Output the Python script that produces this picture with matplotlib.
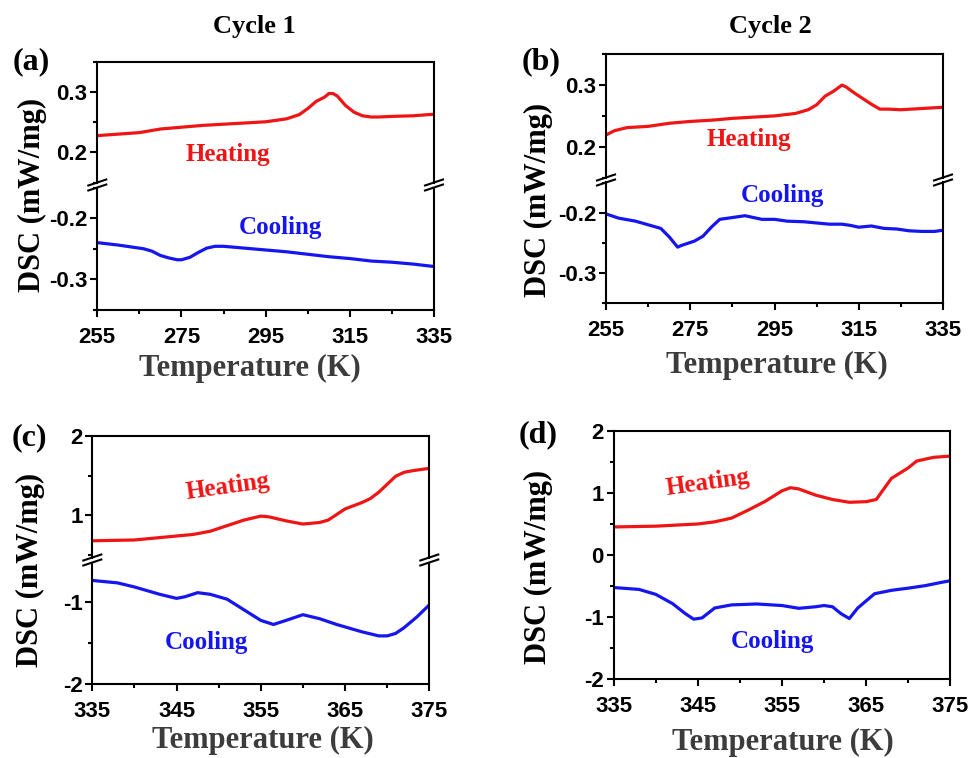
import matplotlib
matplotlib.use("Agg")
import matplotlib.pyplot as plt
from matplotlib.lines import Line2D
from matplotlib.ticker import MultipleLocator, FixedLocator, FormatStrFormatter

plt.rcParams['axes.unicode_minus'] = False

# ---------------- data ----------------
# (a) Cycle 1, 255-335 K
a_T_heat = [255, 265, 270, 280, 290, 295, 300, 303, 305, 307, 309, 310, 311, 312, 314, 316, 318, 320, 322, 325, 330, 335]
a_heat = [0.228, 0.233, 0.239, 0.245, 0.249, 0.251, 0.256, 0.263, 0.273, 0.285, 0.292, 0.298, 0.298, 0.294, 0.278, 0.267, 0.261, 0.259, 0.259, 0.260, 0.261, 0.2636]
a_T_cool = [255, 260, 265, 266, 268, 270, 272, 274, 275, 277, 279, 281, 283, 285, 290, 295, 300, 305, 310, 315, 320, 325, 330, 335]
a_cool = [-0.240, -0.244, -0.249, -0.250, -0.254, -0.261, -0.265, -0.268, -0.268, -0.264, -0.256, -0.249, -0.246, -0.246, -0.249, -0.252, -0.255, -0.259, -0.263, -0.266, -0.270, -0.272, -0.275, -0.279]

# (b) Cycle 2, 255-335 K
b_T_heat = [255, 257, 260, 265, 267, 270, 275, 280, 285, 290, 295, 300, 303, 305, 307, 309, 311, 312, 314, 316, 318, 320, 322, 325, 330, 335]
b_heat = [0.219, 0.226, 0.231, 0.233, 0.235, 0.238, 0.241, 0.243, 0.246, 0.248, 0.250, 0.254, 0.260, 0.268, 0.282, 0.290, 0.300, 0.297, 0.287, 0.278, 0.269, 0.261, 0.261, 0.260, 0.262, 0.264]
b_T_cool = [255, 258, 262, 266, 268, 270, 272, 273, 276, 278, 280, 282, 284, 288, 290, 292, 295, 298, 302, 305, 308, 311, 313, 315, 318, 321, 324, 327, 330, 333, 335]
b_cool = [-0.202, -0.209, -0.214, -0.222, -0.226, -0.240, -0.257, -0.254, -0.247, -0.239, -0.224, -0.211, -0.209, -0.205, -0.208, -0.211, -0.211, -0.214, -0.215, -0.217, -0.219, -0.219, -0.221, -0.224, -0.222, -0.226, -0.227, -0.230, -0.231, -0.231, -0.229]

# (c) Cycle 1, 335-375 K
c_T_heat = [335, 340, 345, 347, 349, 351, 353, 355, 356, 358, 360, 362, 363, 365, 367, 368, 369, 371, 372, 373, 375]
c_heat = [0.68, 0.69, 0.74, 0.76, 0.80, 0.87, 0.94, 0.99, 0.98, 0.93, 0.89, 0.91, 0.94, 1.08, 1.16, 1.21, 1.29, 1.49, 1.54, 1.56, 1.59]
c_T_cool = [335, 338, 340, 343, 345, 346, 347.5, 349, 351, 353, 355, 356.5, 358, 360, 362, 364, 366, 367, 369, 370, 371, 372, 373.5, 375]
c_cool = [-0.73, -0.76, -0.81, -0.90, -0.95, -0.93, -0.88, -0.90, -0.96, -1.09, -1.22, -1.27, -1.22, -1.15, -1.20, -1.27, -1.33, -1.36, -1.41, -1.41, -1.38, -1.31, -1.18, -1.03]

# (d) Cycle 2, 335-375 K
d_T_heat = [335, 340, 345, 347, 349, 351, 353, 355, 356, 357, 359, 361, 363, 365, 366.2, 368, 370, 371, 373, 375]
d_heat = [0.457, 0.47, 0.505, 0.54, 0.60, 0.73, 0.87, 1.04, 1.09, 1.07, 0.97, 0.90, 0.855, 0.865, 0.90, 1.24, 1.41, 1.52, 1.58, 1.60]
d_T_cool = [335, 338, 340, 342, 343.5, 344.5, 345.5, 347, 349, 352, 355, 357, 359, 360, 361, 362, 363, 364, 366, 368, 370, 372, 374, 375]
d_cool = [-0.52, -0.55, -0.63, -0.78, -0.94, -1.03, -1.01, -0.85, -0.80, -0.785, -0.81, -0.855, -0.83, -0.81, -0.83, -0.94, -1.02, -0.85, -0.62, -0.565, -0.53, -0.49, -0.435, -0.41]

# tick positions
low_xticks = [255, 275, 295, 315, 335]
low_xminor = [265, 285, 305, 325]
high_xticks = [335, 345, 355, 365, 375]
high_xminor = [340, 350, 360, 370]

titles = ["Cycle 1", "Cycle 2"]
panel_labels = ["(a)", "(b)", "(c)", "(d)"]
xlabel = "Temperature (K)"
ylabel = "DSC (mW/mg)"

# ---------------- style ----------------
W, H = 972, 758
fig = plt.figure(figsize=(W / 100, H / 100), dpi=100)
RED = '#F01515'
BLUE = '#1515F0'
SERIF = 'Liberation Serif'
SANS = 'Liberation Sans'
LW = 2.3
SPW = 1.5
TICKFS = 16


def fx(px):
    return px / W


def fy(py):
    return 1 - py / H


def rect(l, t, r, b):
    return [fx(l), fy(b), fx(r) - fx(l), fy(t) - fy(b)]


def style_axis(ax, xlim, xmaj, xmin):
    ax.set_xlim(*xlim)
    ax.xaxis.set_major_locator(FixedLocator(xmaj))
    ax.xaxis.set_minor_locator(FixedLocator(xmin))
    for s in ax.spines.values():
        s.set_linewidth(SPW)
    ax.tick_params(which='major', direction='out', length=5, width=SPW,
                   labelsize=TICKFS, pad=2, top=False, right=False)
    ax.tick_params(which='minor', direction='out', length=3, width=SPW,
                   top=False, right=False)
    ax.tick_params(axis='x', which='major', pad=7)


def bold_ticks(ax):
    for lab in ax.get_xticklabels() + ax.get_yticklabels():
        lab.set_fontfamily(SANS)
        lab.set_fontweight('bold')


def slash(xpx, ypx):
    fig.add_artist(Line2D([fx(xpx - 9), fx(xpx + 9)], [fy(ypx + 3), fy(ypx - 3)],
                          color='black', lw=1.5, transform=fig.transFigure))


def broken_panel(l, t, r, b, brk, xlim, xmaj, xmin, top_lim, bot_lim, ymaj, ymin, yfmt,
                 Th, h, Tc, c):
    gap = 2.5
    ax_t = fig.add_axes(rect(l, t, r, brk - gap))
    ax_b = fig.add_axes(rect(l, brk + gap, r, b))
    ax_t.plot(Th, h, color=RED, lw=LW, solid_joinstyle='round')
    ax_b.plot(Tc, c, color=BLUE, lw=LW, solid_joinstyle='round')
    for ax, lim in ((ax_t, top_lim), (ax_b, bot_lim)):
        style_axis(ax, xlim, xmaj, xmin)
        ax.set_ylim(*lim)
        ax.yaxis.set_major_locator(MultipleLocator(ymaj))
        ax.yaxis.set_minor_locator(MultipleLocator(ymin))
        ax.yaxis.set_major_formatter(FormatStrFormatter(yfmt))
        ax.patch.set_alpha(0)
    ax_t.spines['bottom'].set_visible(False)
    ax_t.tick_params(which='both', bottom=False, labelbottom=False)
    ax_b.spines['top'].set_visible(False)
    bold_ticks(ax_t)
    bold_ticks(ax_b)
    for xp in (l, r):
        slash(xp, brk - gap)
        slash(xp, brk + gap)
    return ax_t, ax_b


def label(ax, x, y, s, color, rot=0):
    ax.text(x, y, s, color=color, fontsize=18, fontfamily=SERIF,
            fontweight='bold', ha='center', va='center', rotation=rot)


# (a)
a_t, a_b = broken_panel(97.3, 62.3, 434, 310, 185, (255, 335), low_xticks, low_xminor,
                        (0.15, 0.35), (-0.35, -0.15), 0.1, 0.05, '%.1f',
                        a_T_heat, a_heat, a_T_cool, a_cool)
label(a_t, 286, 0.196, "Heating", RED)
label(a_b, 298.6, -0.216, "Cooling", BLUE)

# (b)
b_t, b_b = broken_panel(606, 54.3, 943, 303.3, 180, (255, 335), low_xticks, low_xminor,
                        (0.15, 0.35), (-0.35, -0.15), 0.1, 0.05, '%.1f',
                        b_T_heat, b_heat, b_T_cool, b_cool)
label(b_t, 289, 0.211, "Heating", RED)
label(b_b, 296.8, -0.172, "Cooling", BLUE)

# (c)
c_t, c_b = broken_panel(92.3, 435.7, 429.3, 684, 560, (335, 375), high_xticks, high_xminor,
                        (0.47, 2.0), (-2.0, -0.51), 1, 0.5, '%d',
                        c_T_heat, c_heat, c_T_cool, c_cool)
label(c_t, 351.1, 1.36, "Heating", RED, 8)
label(c_b, 348.6, -1.49, "Cooling", BLUE)

# (d)
d_ax = fig.add_axes(rect(613.7, 431.3, 950.3, 679.3))
d_ax.plot(d_T_heat, d_heat, color=RED, lw=LW, solid_joinstyle='round')
d_ax.plot(d_T_cool, d_cool, color=BLUE, lw=LW, solid_joinstyle='round')
style_axis(d_ax, (335, 375), high_xticks, high_xminor)
d_ax.set_ylim(-2, 2)
d_ax.yaxis.set_major_locator(MultipleLocator(1))
d_ax.yaxis.set_minor_locator(MultipleLocator(0.5))
d_ax.yaxis.set_major_formatter(FormatStrFormatter('%d'))
bold_ticks(d_ax)
label(d_ax, 346.2, 1.17, "Heating", RED, 8)
label(d_ax, 353.9, -1.39, "Cooling", BLUE)

# figure-level texts
fig.text(fx(254), fy(27), titles[0], fontsize=19, fontfamily=SERIF, fontweight='bold',
         ha='center', va='center')
fig.text(fx(770), fy(27), titles[1], fontsize=19, fontfamily=SERIF, fontweight='bold',
         ha='center', va='center')
for (px, py), lab in zip([(31, 62), (541, 62), (29, 438), (538, 435)], panel_labels):
    fig.text(fx(px), fy(py), lab, fontsize=23, fontfamily=SERIF, fontweight='bold',
             ha='center', va='center')
for (px, py) in [(32, 195), (538, 200), (30, 570), (538, 567)]:
    fig.text(fx(px), fy(py), ylabel, fontsize=22, fontfamily=SERIF, fontweight='bold',
             ha='center', va='center', rotation=90)
for (px, py) in [(250, 368), (777, 365), (263, 740), (783, 742)]:
    fig.text(fx(px), fy(py), xlabel, fontsize=22, fontfamily=SERIF, fontweight='bold',
             ha='center', va='center', color='#3c3c3c')

fig.savefig("out.png", dpi=100)
